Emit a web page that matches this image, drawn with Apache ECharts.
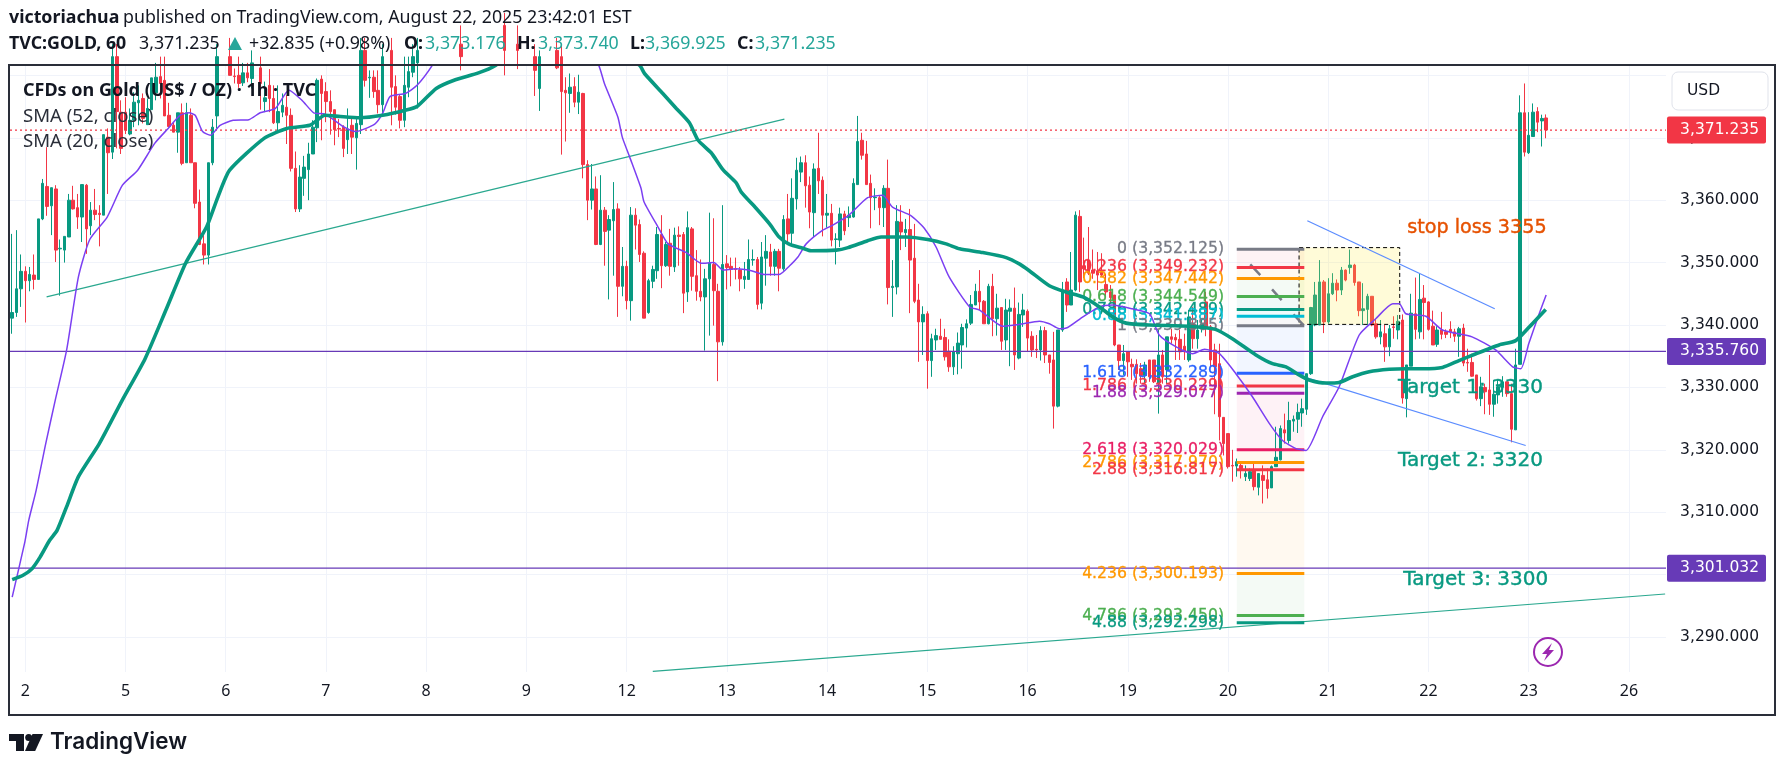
<!DOCTYPE html>
<html><head><meta charset="utf-8">
<style>html,body{margin:0;padding:0;background:#fff}#c{width:1785px;height:770px}</style>
<script src="https://cdn.jsdelivr.net/npm/echarts@6/dist/echarts.min.js"></script>
</head><body><div id="c"></div>
<script>
// hourly candles: [open, close, low, high]
const candleRows=[
[3341.1,3342,3338.6,3354.6],[3342,3345.8,3341.3,3355.2],[3345.8,3348.6,3342.9,3351.3],[3348.6,3347.1,3340.4,3349.4],[3347.1,3348.1,3345.4,3349.3],[3348,3347.3,3345.7,3351.3],[3347.3,3357,3347.3,3357],[3357,3362.7,3356.8,3363.4],[3362.2,3359,3357.5,3368.5],[3359.1,3362,3354.4,3362],
[3361.8,3352,3350.1,3362.4],[3352.2,3352.3,3344.7,3353.7],[3352,3354.2,3350,3354.2],[3354.1,3360,3354.1,3361],[3360,3358.6,3358.5,3362.3],[3358.8,3357.3,3355.4,3361],[3357.3,3362.5,3353.3,3362.5],[3362.4,3355.4,3351.4,3362.6],[3355.9,3358.4,3354.4,3359.7],[3358.4,3357.7,3356.8,3361.8],
[3357.9,3357.7,3352.6,3359.2],[3357.6,3370.5,3357.6,3370.5],[3370.1,3367.6,3361,3371.5],[3367.7,3383,3366.6,3385],[3383,3374.2,3368.3,3385],[3374.1,3368.3,3367.4,3376],[3374.1,3371.2,3370.6,3376.5],[3370.6,3372.8,3370.4,3374.7],[3372.8,3375.7,3371.7,3377.3],[3375.6,3376,3372,3378.4],
[3376.3,3373.1,3372.3,3377.1],[3372.1,3374.7,3372.1,3376.3],[3374.5,3379.6,3374.5,3379.6],[3377.2,3379.7,3376,3382],[3379.8,3378.7,3376.3,3383],[3379.2,3373.5,3373.5,3383],[3373.6,3371.8,3371.8,3375.6],[3372,3370.9,3370.9,3372.4],[3370.9,3374,3367.6,3374],[3374,3365.9,3365.6,3375.5],
[3366,3374,3366,3375.6],[3373.6,3366,3366,3374.7],[3366,3359.5,3358.7,3366],[3359.7,3352.9,3352.8,3361.7],[3353,3351.2,3349.7,3354.4],[3351.2,3366,3349.7,3366],[3366,3371.7,3365.6,3373],[3373.5,3383,3371.5,3385],[3383,3385,3382.5,3386],[3385,3383,3382.5,3386],
[3383,3380,3380,3386],[3379.9,3379.8,3378.7,3381.1],[3380,3378.7,3378,3383],[3378.8,3380.4,3378.3,3382],[3380.4,3379.6,3378.9,3382],[3379.5,3382,3377.9,3384],[3382,3383,3382,3385],[3381.2,3378.7,3374.5,3383],[3375.8,3376.4,3374.1,3379],[3378.4,3376.3,3374.1,3381],
[3376.3,3372.4,3372.2,3378.4],[3372.4,3374.2,3371.2,3378.4],[3374.1,3375.2,3373.3,3377.1],[3374.9,3373.6,3369,3376.8],[3373.6,3365.1,3364.6,3374.7],[3365.1,3358.6,3358.1,3367.8],[3358.6,3363.7,3358.1,3365.6],[3363.5,3365.3,3360.7,3367.1],[3364.9,3367.4,3360,3369.2],[3367.4,3371.7,3367.4,3372.8],
[3371.6,3379.2,3369.3,3379.5],[3379.4,3377.1,3369.6,3380],[3377.4,3375.8,3372.5,3378.9],[3375.8,3374.2,3370.5,3377.6],[3374.5,3371.3,3368.8,3374.5],[3371.5,3371.4,3370.1,3373],[3371.7,3368.3,3366.9,3372],[3369.7,3371.4,3367.4,3374.7],[3372,3370.1,3367.4,3373.3],[3370,3372.3,3364.9,3373],
[3372.1,3384,3370.6,3386],[3384,3379.2,3378.2,3386],[3379.6,3379.7,3376.4,3380.8],[3379.7,3377.4,3376.4,3380.8],[3377.6,3375.3,3373.9,3380.8],[3375.3,3383,3373.9,3385],[3385,3383,3382,3386],[3384,3378.1,3372,3386],[3378.2,3374.9,3373.7,3380],[3376.6,3372.8,3371.5,3377],
[3372.8,3378.4,3371.7,3383],[3378.1,3380.6,3376.5,3383],[3380.5,3383,3379.7,3385],[3382,3384,3374.7,3386],[3384,3386,3383,3388],[3386,3385,3384,3388],[3385,3388,3384,3390],[3388,3387,3385,3390],[3387,3390,3386,3392],[3390,3388,3386,3392],
[3388,3386,3385,3390],[3386,3388,3384,3390],[3388,3385,3384,3391],[3385,3383,3380.8,3388],[3383,3386,3382.5,3388],[3386,3388,3385,3390],[3388,3386,3385,3390],[3386,3389,3385,3391],[3389,3387,3385,3391],[3387,3390,3386,3392],
[3390,3388,3386,3392],[3388,3386,3384,3390],[3386,3388,3384,3390],[3388,3384,3380,3390],[3384,3387,3383,3389],[3387,3385,3384,3389],[3385,3384,3381,3388],[3384,3387,3383,3389],[3387,3386,3384,3389],[3386,3383,3382.5,3388],
[3383,3380.8,3376.7,3385],[3377.9,3383,3374.3,3384],[3383,3386,3382,3388],[3386,3385,3383,3388],[3385,3387,3384,3389],[3384,3381.2,3381,3386],[3383,3377.4,3367.3,3385],[3377.6,3377.2,3369.4,3379.7],[3377.1,3378.1,3374,3380.3],[3378.2,3375.7,3374.9,3379.7],
[3375.7,3377.3,3373.8,3380.1],[3377.1,3365.7,3363.5,3377.2],[3365.7,3360,3356.8,3366.4],[3360,3361.8,3358.5,3365.8],[3361.8,3352.9,3352.8,3363.8],[3352.9,3358.4,3352.8,3364],[3358.4,3355,3349.5,3358.9],[3355.2,3356.9,3344.1,3357.6],[3356.7,3358.5,3347.9,3362.9],[3358.6,3346.2,3341.3,3359.5],
[3346.2,3349.4,3344.6,3352.5],[3349.4,3343.9,3342.5,3350.3],[3343.9,3357.6,3340.7,3358.9],[3357.6,3356,3352.1,3358.7],[3356.1,3351.3,3350.1,3356.9],[3351.5,3341.1,3341.1,3351.8],[3342,3347.1,3341.8,3347.4],[3347,3348.9,3345.9,3349.5],[3348.7,3354.5,3347.4,3355.7],[3354.5,3349.5,3345.9,3357.6],
[3349.5,3352.9,3349.3,3353.3],[3353.1,3349.4,3347.9,3355.4],[3349.3,3354.4,3348.5,3355.6],[3354.4,3354.2,3349.5,3355.8],[3354.5,3345.1,3341.9,3354.9],[3345.3,3355.6,3343.7,3358.2],[3355.4,3347.8,3345.5,3355.7],[3347.9,3345.4,3343.9,3352],[3345.4,3344.5,3343.8,3350.5],[3344.5,3347.4,3335.9,3349],
[3347.4,3349.9,3338.3,3358],[3349.7,3345.5,3339.9,3357.1],[3345.4,3337.3,3331,3346.6],[3337.3,3349.7,3336.7,3359.2],[3349.8,3349.2,3345.7,3351.2],[3349.4,3348.9,3346.2,3350.8],[3349,3348.9,3347.3,3350.8],[3348.8,3347.4,3345.4,3349.3],[3347.3,3347.8,3345.8,3350.1],[3347.3,3350.5,3347.3,3353.7],
[3350.4,3350.5,3349.5,3352.1],[3350.5,3343.3,3342.5,3350.9],[3343.5,3350.9,3342.5,3353.3],[3350.7,3351.8,3346.3,3354.4],[3351.7,3349.4,3347.9,3353],[3349.4,3351.8,3347.9,3352.2],[3351.8,3349.1,3345.4,3352.2],[3349,3356.9,3348.7,3357.6],[3357,3354.6,3352.8,3361],[3354.7,3360.3,3352.9,3363.5],
[3360.2,3364.8,3358.5,3366.8],[3364.5,3366,3362.9,3367],[3366,3362.3,3358.8,3367.2],[3362.4,3358.1,3355.5,3363.8],[3358,3365,3354.1,3365.9],[3365.1,3363.1,3361,3370.8],[3363.2,3357.6,3354.2,3363.8],[3357.6,3357.9,3355.6,3361],[3357.9,3353.6,3352.6,3359.4],[3353.7,3353.8,3349.7,3354.7],
[3353.6,3357.8,3352.5,3358.8],[3357.8,3355.1,3354.4,3358.3],[3357.2,3357.6,3355.7,3359],[3357.3,3362.7,3357.2,3363.5],[3362.5,3369.4,3362.5,3373.5],[3369.6,3367.2,3366.5,3370.8],[3367.4,3362.5,3362.5,3369.5],[3362.7,3360.4,3355.5,3364.1],[3360.4,3360.5,3358.4,3361.9],[3360.4,3358.8,3356,3360.8],
[3358.8,3361.9,3355.7,3362.4],[3361.9,3346,3343.3,3366.5],[3346,3346.2,3341.3,3350.4],[3346.1,3356.6,3344.9,3359.2],[3356.5,3354.9,3352,3359.2],[3354.8,3355.3,3352.5,3357],[3355.3,3350.4,3341.9,3358.6],[3350.7,3343.8,3343.5,3356.2],[3344,3340.5,3334.1,3346.6],[3340.5,3341.7,3335.2,3343],
[3341.8,3334.3,3329.8,3342.2],[3334.3,3337.8,3331.7,3338.6],[3337.6,3338.3,3336,3339.4],[3338.2,3337.7,3337.7,3341],[3338,3334.9,3334.3,3339.4],[3335.8,3333.3,3332.5,3337.7],[3333.3,3335.7,3332,3336.6],[3335.4,3337.1,3332.1,3338.8],[3336.8,3339.6,3333,3340.2],[3339.5,3340.2,3336.4,3340.9],
[3340.3,3343.3,3340,3344.8],[3343.2,3345.4,3343.2,3346.6],[3345.4,3343.7,3342.4,3348.8],[3343.8,3340.2,3340.2,3344],[3340.2,3346.2,3340.1,3346.6],[3346.2,3341,3338.2,3348.2],[3341,3342.7,3338.3,3345],[3342.8,3337.4,3336,3342.8],[3337.6,3342.4,3336,3344.2],[3342.2,3342.7,3333.4,3344.1],
[3342.7,3335.2,3332.8,3346],[3334.7,3341.7,3334.5,3343.6],[3341.6,3342.4,3339.7,3345],[3342.2,3337.9,3335.7,3342.5],[3338.2,3336,3334.9,3339],[3336.1,3336,3334.7,3338.4],[3336,3339.1,3334.3,3339.8],[3339.1,3335.2,3333.9,3339.7],[3335.2,3334,3332.2,3335.2],[3334.4,3327,3323.4,3338.9],
[3327,3339.2,3326.8,3339.2],[3339.2,3345.6,3338.9,3346.9],[3346.9,3343.2,3342.1,3347.5],[3343.2,3345.6,3343.2,3351.7],[3345.6,3357.6,3345.4,3358.2],[3357.4,3346.9,3345.3,3358.4],[3349.5,3349,3347.5,3354],[3350.4,3348.3,3348,3355.7],[3348.8,3348.3,3347.4,3352.1],[3348.7,3348,3345.6,3351.7],
[3348.5,3348,3347.7,3351.5],[3346.5,3345.3,3344.4,3348.2],[3345.3,3344.4,3343.4,3346.4],[3344.8,3336.8,3336.6,3344.8],[3336.8,3334.3,3332.8,3336.8],[3334.3,3335.4,3332,3336.8],[3335.7,3334.1,3331.7,3335.7],[3333.7,3333.3,3331.2,3334.6],[3333.7,3332.2,3330.6,3334.5],[3333,3331.9,3330.6,3333.9],
[3331.9,3333.6,3330.6,3334.1],[3334.4,3331.7,3330.9,3334.4],[3334.4,3330.9,3330.7,3334.4],[3330.6,3335.2,3325.8,3339.2],[3335.2,3331.7,3330.6,3336],[3332.8,3338.1,3330.6,3338.1],[3338.1,3337.7,3337,3339.4],[3338,3337.6,3334.4,3338.6],[3337.7,3335.7,3334.4,3339.2],[3336.6,3335.7,3334.4,3338.6],
[3334.4,3341.3,3334.1,3342.4],[3340.2,3337.8,3336.2,3342.9],[3337.8,3339.2,3336.2,3340.8],[3339.4,3340.2,3338.8,3341],[3343.7,3339.7,3338.2,3345.3],[3339.7,3334.4,3333.3,3340],[3336,3333.3,3325.7,3337],[3333.8,3325.3,3321.5,3337],[3325.2,3321,3319.1,3325.2],[3322.6,3317.3,3317,3322.6],
[3317.5,3317.4,3314.9,3320],[3317.4,3318.1,3315.7,3318.6],[3317.5,3317,3315.4,3318],[3315.7,3316.2,3315,3317.5],[3315.4,3316.5,3315,3317],[3316.6,3314.1,3313.5,3317.8],[3314,3316.2,3312.7,3316.2],[3315.9,3315.1,3311.4,3317.5],[3315.2,3313.8,3312.2,3317],[3313.9,3317.3,3313.9,3317.5],
[3317.3,3318.8,3317.3,3323.7],[3318.4,3323.4,3318.3,3323.9],[3323.2,3322.7,3321,3325.8],[3321.5,3324.7,3321,3327.7],[3324.6,3324.9,3322.9,3325.5],[3324.9,3326,3322.7,3327.4],[3325.9,3326.6,3323.7,3328.2],[3326.5,3332.2,3325.6,3332.2],[3332.2,3342.8,3332,3342.9],[3340,3344.8,3339.8,3346.9],
[3340,3346.9,3340,3350.4],[3346.9,3340.5,3338.7,3347.2],[3340.5,3345,3340.2,3347.5],[3345,3346.7,3344.8,3348.3],[3346.7,3345.6,3343.8,3347.3],[3345.6,3348.8,3344.8,3349.3],[3348.8,3347.2,3347,3348.9],[3349.2,3349.6,3348.2,3352.1],[3349.6,3346.8,3346.3,3349.8],[3346.9,3342.3,3341.4,3346.9],
[3342.3,3342.6,3340,3346.7],[3342.5,3344.6,3340,3345],[3344.6,3340,3339.8,3344.6],[3340.2,3338.1,3337.8,3341],[3338.1,3338.9,3336.9,3340.8],[3338.6,3336.5,3334.1,3340],[3336.5,3339.4,3335,3340],[3339.7,3339.6,3337.8,3341.4],[3339.2,3340.6,3337.7,3341.6],[3340.8,3328.3,3327.4,3341.7],
[3328.2,3333.6,3325.2,3333.6],[3333.4,3341.9,3333.4,3345],[3341.8,3339.3,3337.7,3347.6],[3338.9,3344.1,3337.8,3348.2],[3344.3,3343.6,3337.7,3346.4],[3343.7,3339.3,3339.1,3343.8],[3339.8,3336.8,3336.8,3342.3],[3336.9,3339.2,3336.5,3339.8],[3339.2,3338.5,3337.7,3342.1],[3338.9,3338.5,3337.9,3339.3],
[3339.3,3338.9,3337.9,3340.6],[3338.9,3338.2,3337.3,3339.4],[3338.2,3339.4,3334.9,3339.7],[3339.5,3333.9,3333.4,3340.2],[3334,3333.9,3332.5,3336.2],[3334,3331.8,3331.7,3335.4],[3332,3328.2,3327.9,3332],[3328.2,3330.1,3327,3331.7],[3330,3329.3,3325.7,3330.6],[3329.6,3327.3,3325.6,3335.2],
[3327.3,3328.9,3325.3,3331.2],[3328.8,3330.1,3327.4,3331.2],[3330,3330.9,3328.5,3331.8],[3330.9,3329,3328.5,3330.9],[3329,3323.3,3321.2,3330.6],[3323.2,3333.6,3323.2,3336.2],[3333.7,3374,3333.7,3376.8],[3374,3367.7,3367,3378.7],[3367.6,3370.4,3367.4,3374.1],[3370.2,3374.1,3370.2,3375.5],
[3374.2,3372.5,3370.9,3374.9],[3372.7,3373.1,3368.6,3373.7],[3373.176,3371.235,3369.925,3373.74]
];
const slotCount=380;
const dayLabels=['2','5','6','7','8','9','12','13','14','15','16','19','20','21','22','23','26'];
const dayTicks=[3,26,49,72,95,118,141,164,187,210,233,256,279,302,325,348,371];
const priceTicks=[3290,3300,3310,3320,3330,3340,3350,3360,3370,3380];
const priceLabels=[3290,3300,3310,3320,3330,3340,3350,3360,3370];
const smaSlow=[[0,3299.2],[2.5,3299.9],[4.6,3301],[6.4,3302.8],[8.6,3305.5],[10.3,3307.1],[12.5,3310.9],[15.2,3315.7],[20,3321],[25.3,3328],[30.5,3334.6],[35.4,3342.6],[39.8,3349.9],[44.6,3355.7],[47.2,3360.5],[49.9,3364.8],[57.8,3369.9],[63,3371.5],[68.3,3372],[71.8,3373.6],[75.3,3373.4],[79.7,3373.2],[85,3373.6],[90.2,3374.4],[92.9,3375],[97.3,3377.9],[101.7,3379.3],[107,3380.4],[110.9,3381.6],[120,3386],[128,3387.5],[136,3385.5],[144,3381.6],[145.1,3380.3],[149.3,3377.1],[152.4,3374.7],[155.4,3372.4],[157.4,3369.6],[160.4,3367.6],[163.1,3364.9],[166.1,3362.8],[167.3,3361.3],[170.7,3358.7],[173.8,3356.2],[176,3354.1],[178.4,3352.9],[181.4,3352.3],[183.3,3351.9],[189.1,3352],[191.8,3352.4],[196.3,3353.5],[199.4,3354.1],[205.1,3354.1],[210.1,3353.7],[214.3,3353],[217.4,3352.2],[222.7,3351.6],[228.1,3350.8],[231.1,3349.8],[233.4,3348.7],[238,3346.3],[241.8,3345.3],[245.7,3344.5],[249.5,3342.9],[252.5,3341.3],[255.6,3340.3],[261,3340],[270.1,3339.8],[276.1,3339.3],[280,3337.8],[285.4,3335.2],[289.2,3333.8],[292.3,3333.3],[295.3,3332],[297.6,3331.2],[301.5,3330.7],[304.5,3330.8],[307.6,3331.7],[311.4,3332.5],[316,3332.9],[319.8,3333],[323.6,3333],[328.2,3333.2],[332,3334.3],[335.9,3335.4],[341.2,3336.8],[345,3337.5],[348,3339.6],[351.9,3342.5]];
const smaFast=[[0,3296.4],[2.9,3305.2],[3.8,3308.7],[5.5,3313.5],[7.7,3321],[9.9,3328],[12.5,3336],[15.2,3347.7],[17.8,3353.7],[21.8,3357.3],[25.3,3362.4],[28.8,3364.8],[32.7,3369.1],[35.8,3371.5],[38.5,3373.6],[40.6,3374],[42,3373.6],[43.7,3371],[45.5,3370.4],[47.7,3372],[50.7,3372.8],[54.3,3372.9],[56.9,3374],[60.4,3374.7],[63.5,3377.6],[66.5,3376],[69.2,3374],[71.8,3373.8],[76.2,3371.7],[78.8,3371],[83.2,3372.2],[85,3373.9],[86.7,3376.6],[90.2,3377.1],[92.9,3378.4],[96.4,3381.6],[100,3386],[110,3392],[120,3394],[128,3390],[134.6,3381.6],[135.9,3378.7],[139,3373.3],[140,3370.1],[141.7,3366.9],[144.3,3361.9],[145,3359.7],[148.2,3355.7],[150.5,3353],[154.7,3351.6],[158.1,3349.9],[161,3350],[163.1,3348.8],[166,3349],[169.6,3348.7],[172.6,3348.1],[176,3348.1],[178.4,3349.5],[180.3,3350.9],[182.2,3353],[186,3355.2],[188.3,3356],[192,3357.6],[196.3,3360.4],[199.8,3360.8],[202,3358.9],[206.3,3357.5],[209.3,3355.5],[212,3352.5],[215,3347.7],[219.7,3342.9],[222,3342.4],[227.3,3339.8],[231.1,3340.1],[235.7,3340.6],[238,3340.2],[240.3,3339.4],[242.2,3339.6],[245.7,3341.3],[249.5,3342.9],[252.5,3343.2],[257,3342.6],[261,3341.8],[263.2,3338.4],[267.1,3336.5],[270.9,3335.4],[273.6,3336.1],[277,3335.4],[280.8,3332.2],[284.6,3328.5],[288.5,3324.2],[291.5,3321.5],[294.6,3320.2],[296.9,3319.9],[300.7,3325.3],[304.5,3330.1],[309.1,3338.4],[312.9,3341],[316.8,3343.4],[318.3,3343.4],[319.8,3341.8],[324.4,3341.4],[328.2,3339.2],[335,3338.1],[340.4,3336],[344.3,3333.3],[346.2,3333],[348,3337],[350.4,3341.8],[352,3344.8]];
const trendUpper=[[7.9,3344.5],[177.2,3373]];
const trendLower=[[147,3284.5],[379.3,3296.9]];
const channelTop=[[297.2,3356.7],[340.2,3342.6]];
const channelBottom=[[295.4,3331.9],[347.3,3320.7]];
const levelPurple=[3335.76,3301.032];
const lastPrice=3371.235;
const fibLevels=['0','0.236','0.382','0.618','0.786','0.88','1','1.618','1.786','1.88','2.618','2.786','2.88','4.236','4.786','4.88'];
const fibPrices=[3352.125,3349.232,3347.442,3344.549,3342.489,3341.387,3339.885,3332.289,3330.229,3329.077,3320.029,3317.97,3316.817,3300.193,3293.45,3292.298];
const fibColors=['#787b86','#f23645','#ff9800','#4caf50','#089981','#00bcd4','#787b86','#2962ff','#f23645','#9c27b0','#e91e63','#ff9800','#f23645','#ff9800','#4caf50','#089981'];
const fibX=[281,296.5], fibLabelX=278.1;
const fibDashes=[[[284.1,3349.7],[286.4,3348]],[[289.1,3345.7],[291.3,3344]],[[294,3341.7],[296.3,3340]]];
const boxX=[295.3,318.4], boxY=[3340.1,3352.4];
const notes=[['stop loss 3355',320.1,3355.5,'#e65100',19.2],['Target 1: 3330',318,3329.9,'#089981',20],['Target 2: 3320',318,3318.3,'#089981',20],['Target 3: 3300',319.2,3299.1,'#089981',20]];
const tags=[[3371.235,'#f23645'],[3335.76,'#673ab7'],[3301.032,'#673ab7']];

const UI='"DejaVu Sans"', DARK='#131722', UP='#089981', DOWN='#f23645';
const fmt=v=>v.toLocaleString('en-US',{minimumFractionDigits:3,maximumFractionDigits:3});
const lineS=(data,color,width,z,extra)=>Object.assign({type:'line',xAxisIndex:1,yAxisIndex:0,data,symbol:'none',silent:true,z,animation:false,lineStyle:{color,width}},extra||{});
const seg=(a,api,color,w,dash)=>{const p=api.coord(a[0]),q=api.coord(a[1]);return {type:'line',shape:{x1:p[0],y1:p[1],x2:q[0],y2:q[1]},style:{stroke:color,lineWidth:w,lineDash:dash||null}};};
const rectOf=(x0,x1,y0,y1,api)=>{const a=api.coord([x0,y1]),b=api.coord([x1,y0]);return {x:a[0],y:a[1],width:b[0]-a[0],height:b[1]-a[1]};};
const hexA=(h,a)=>{const n=parseInt(h.slice(1),16);return `rgba(${n>>16},${(n>>8)&255},${n&255},${a})`;};

const headerTop=[['victoriachua',9,true,DARK],['published on TradingView.com, August 22, 2025 23:42:01 EST',123,false,DARK]];
const headerSub=[['TVC:GOLD, 60',9,true,DARK],['3,371.235',139,false,DARK],['+32.835 (+0.98%)',249,false,DARK],['O:',404,true,DARK],['3,373.176',425,false,'#26a69a'],['H:',517,true,DARK],['3,373.740',538,false,'#26a69a'],['L:',630,true,DARK],['3,369.925',645,false,'#26a69a'],['C:',737,true,DARK],['3,371.235',755,false,'#26a69a']];
const hdr=(rows,y,size)=>rows.map(r=>({type:'text',silent:true,z:50,style:{x:r[1],y,text:r[0],fill:r[3],font:`${r[2]?'bold ':''}${size}px "Noto Sans"`,textVerticalAlign:'middle'}}));

const option={
 animation:false,backgroundColor:'#fff',
 grid:{left:10,right:119,top:66,bottom:98,containLabel:false},
 xAxis:[
  {type:'category',data:Array.from({length:slotCount},(_,i)=>String(i)),show:false,boundaryGap:true},
  {type:'value',min:-0.5,max:slotCount-0.5,position:'bottom',axisLine:{show:false},
   axisTick:{show:false,customValues:dayTicks},
   axisLabel:{customValues:dayTicks,formatter:v=>dayLabels[dayTicks.indexOf(v)]||'',color:DARK,fontFamily:'"Noto Sans"',fontSize:16,margin:11,hideOverlap:false,showMinLabel:true,showMaxLabel:true},
   splitLine:{show:true,lineStyle:{color:'#f0f3fa',width:1}}}
 ],
 yAxis:[{type:'value',position:'right',min:3284.4,max:3381.5,axisLine:{show:false},
   axisTick:{show:false,customValues:priceTicks},
   axisLabel:{customValues:priceLabels,align:'right',margin:93,color:DARK,fontFamily:UI,fontSize:15.5,formatter:v=>fmt(v),showMinLabel:true,showMaxLabel:true},
   splitLine:{show:true,lineStyle:{color:'#f0f3fa',width:1}}}],
 series:[
  {type:'custom',name:'fibBands',xAxisIndex:1,yAxisIndex:0,z:1,silent:true,clip:true,data:fibPrices.map((p,k)=>[k]),
   encode:{x:[],y:[]},
   renderItem(params,api){const k=params.dataIndex;if(k===0)return null;
     return {type:'rect',shape:rectOf(fibX[0],fibX[1],fibPrices[k],fibPrices[k-1],api),style:{fill:hexA(fibColors[k],0.06)}};}},
  {type:'candlestick',xAxisIndex:0,yAxisIndex:0,z:2,silent:true,barWidth:3,data:candleRows,
   itemStyle:{color:UP,color0:DOWN,borderColor:UP,borderColor0:DOWN,borderWidth:1}},
  {type:'custom',name:'box',xAxisIndex:1,yAxisIndex:0,z:3,silent:true,clip:true,data:[[0]],encode:{x:[],y:[]},
   renderItem(params,api){return {type:'rect',shape:rectOf(boxX[0],boxX[1],boxY[0],boxY[1],api),style:{fill:'rgba(255,235,59,0.2)',stroke:'#000',lineWidth:1,lineDash:[4,3]}};}},
  lineS(trendUpper,'#2aa88f',1.2,3),
  lineS(trendLower,'#2aa88f',1.2,3),
  lineS(channelTop,'#5b8cff',1.2,3),
  lineS(channelBottom,'#5b8cff',1.2,3),
  lineS([[-0.5,levelPurple[0]],[slotCount-0.5,levelPurple[0]]],'#673ab7',1.2,3),
  lineS([[-0.5,levelPurple[1]],[slotCount-0.5,levelPurple[1]]],'#673ab7',1.2,3),
  lineS([[-0.5,lastPrice],[slotCount-0.5,lastPrice]],'#f23645',1,3,{lineStyle:{color:'#f23645',width:1.2,type:[2,3]}}),
  {type:'custom',name:'fibLines',xAxisIndex:1,yAxisIndex:0,z:4,silent:true,clip:false,data:fibPrices.map((p,k)=>[k]),encode:{x:[],y:[]},
   renderItem(params,api){const k=params.dataIndex,c=fibColors[k],p=fibPrices[k];
     const kids=[seg([[fibX[0],p],[fibX[1],p]],api,c,3),
       {type:'text',style:{x:api.coord([fibLabelX,p])[0],y:api.coord([fibLabelX,p])[1],text:`${fibLevels[k]} (${fmt(p)})`,fill:c,stroke:c,lineWidth:0.3,font:`15.7px ${UI}`,textAlign:'right',textVerticalAlign:'middle'}}];
     if(k===0) fibDashes.forEach(d=>kids.push(seg(d,api,'#787b86',2.5)));
     return {type:'group',children:kids};}},
  lineS(smaFast,'#7b3ff2',1.5,5,{smooth:0.2}),
  lineS(smaSlow,UP,3.6,5,{smooth:0.2}),
  {type:'custom',name:'notes',xAxisIndex:1,yAxisIndex:0,z:6,silent:true,clip:false,data:notes.map((n,k)=>[k]),encode:{x:[],y:[]},
   renderItem(params,api){const n=notes[params.dataIndex],p=api.coord([n[1],n[2]]);
     return {type:'text',style:{x:p[0],y:p[1],text:n[0],fill:n[3],stroke:n[3],lineWidth:0.4,font:`${n[4]}px ${UI}`,textVerticalAlign:'middle'}};}},
  {type:'custom',name:'tags',xAxisIndex:1,yAxisIndex:0,z:20,silent:true,clip:false,data:tags.map((t,k)=>[k]),encode:{x:[],y:[]},
   renderItem(params,api){const t=tags[params.dataIndex],y=api.coord([0,t[0]])[1];
     return {type:'group',children:[
      {type:'rect',shape:{x:1667,y:y-13.5,width:99,height:27,r:2},style:{fill:t[1]}},
      {type:'text',style:{x:1759,y,text:fmt(t[0]),fill:'#fff',font:`15.5px ${UI}`,textAlign:'right',textVerticalAlign:'middle'}}]};}}
 ],
 graphic:{elements:[
  {type:'rect',silent:true,z:40,shape:{x:9,y:65,width:1766,height:650},style:{fill:'none',stroke:'#2a2e39',lineWidth:2}},
  ...hdr(headerTop,18,17.8),...hdr(headerSub,44,17.8),
  {type:'polygon',silent:true,z:50,shape:{points:[[235,37],[242,50],[228,50]]},style:{fill:'#26a69a'}},
  {type:'text',silent:true,z:50,style:{x:23,y:91,text:'CFDs on Gold (US$ / OZ) · 1h · TVC',fill:DARK,font:'bold 18px "Noto Sans"',textVerticalAlign:'middle'}},
  {type:'text',silent:true,z:50,style:{x:23,y:117,text:'SMA (52, close)',fill:'#2a2e39',font:'18.6px "Noto Sans"',textVerticalAlign:'middle'}},
  {type:'text',silent:true,z:50,style:{x:23,y:142,text:'SMA (20, close)',fill:'#2a2e39',font:'18.6px "Noto Sans"',textVerticalAlign:'middle'}},
  {type:'rect',silent:true,z:45,shape:{x:1672,y:72,width:96,height:38,r:6},style:{fill:'#fff',stroke:'#e0e3eb',lineWidth:1}},
  {type:'text',silent:true,z:50,style:{x:1687,y:91,text:'USD',fill:DARK,font:`15.5px ${UI}`,textVerticalAlign:'middle'}},
  {type:'circle',silent:true,z:50,shape:{cx:1548,cy:652,r:14},style:{fill:'#fff',stroke:'#9c27b0',lineWidth:2}},
  {type:'polygon',silent:true,z:51,shape:{points:[[1552,643],[1542,654],[1547,654],[1544,661],[1554,650],[1549,650]]},style:{fill:'#9c27b0'}},
  {type:'polygon',silent:true,z:50,shape:{points:[[9,734],[24,734],[24,751],[16,751],[16,741],[9,741]]},style:{fill:DARK}},
  {type:'circle',silent:true,z:50,shape:{cx:28.7,cy:737.5,r:3.5},style:{fill:DARK}},
  {type:'polygon',silent:true,z:50,shape:{points:[[32.5,734],[43,734],[35.2,751],[25,751]]},style:{fill:DARK}},
  {type:'text',silent:true,z:50,style:{x:50,y:742,text:'TradingView',fill:DARK,font:'600 22.5px Inter',textVerticalAlign:'middle'}}
 ]}
};
const chart=echarts.init(document.getElementById('c'),null,{renderer:'canvas',width:1785,height:770});
chart.setOption(option);
</script></body></html>
